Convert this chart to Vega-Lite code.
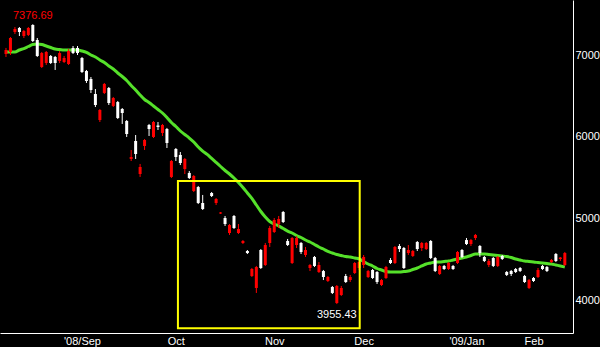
{
  "$schema": "https://vega.github.io/schema/vega-lite/v6.json",
  "width": 573,
  "height": 333,
  "autosize": {"type": "none"},
  "padding": {"left": 0, "top": 0, "right": 27, "bottom": 14},
  "background": "#000000",
  "config": {"view": {"stroke": null}, "font": "Liberation Sans"},
  "datasets": {
    "candles": [
      {"i":0,"o":7061,"h":7086,"l":6976,"c":7012,"ma":7037},
      {"i":1,"o":7208,"h":7220,"l":7000,"c":7037,"ma":7037},
      {"i":2,"o":7318,"h":7342,"l":7257,"c":7281,"ma":7037},
      {"i":3,"o":7281,"h":7342,"l":7232,"c":7330,"ma":7061},
      {"i":4,"o":7293,"h":7306,"l":7208,"c":7232,"ma":7079},
      {"i":5,"o":7330,"h":7342,"l":7232,"c":7245,"ma":7104},
      {"i":6,"o":7171,"h":7376.69,"l":7159,"c":7367,"ma":7128},
      {"i":7,"o":6988,"h":7208,"l":6976,"c":7183,"ma":7134},
      {"i":8,"o":7024,"h":7037,"l":6841,"c":6853,"ma":7128},
      {"i":9,"o":7037,"h":7049,"l":6878,"c":6902,"ma":7110},
      {"i":10,"o":6902,"h":7000,"l":6890,"c":6988,"ma":7092},
      {"i":11,"o":6902,"h":6988,"l":6817,"c":6976,"ma":7073},
      {"i":12,"o":7024,"h":7049,"l":6902,"c":6927,"ma":7067},
      {"i":13,"o":6963,"h":6988,"l":6902,"c":6914,"ma":7061},
      {"i":14,"o":7049,"h":7073,"l":6878,"c":6890,"ma":7061},
      {"i":15,"o":7024,"h":7110,"l":7012,"c":7086,"ma":7061},
      {"i":16,"o":7024,"h":7110,"l":7000,"c":7086,"ma":7061},
      {"i":17,"o":6792,"h":6976,"l":6780,"c":6963,"ma":7049},
      {"i":18,"o":6682,"h":6817,"l":6658,"c":6804,"ma":7031},
      {"i":19,"o":6572,"h":6731,"l":6536,"c":6707,"ma":7000},
      {"i":20,"o":6389,"h":6584,"l":6364,"c":6523,"ma":6976},
      {"i":21,"o":6328,"h":6340,"l":6181,"c":6205,"ma":6939},
      {"i":22,"o":6646,"h":6658,"l":6523,"c":6536,"ma":6908},
      {"i":23,"o":6413,"h":6609,"l":6389,"c":6597,"ma":6866},
      {"i":24,"o":6474,"h":6487,"l":6364,"c":6377,"ma":6829},
      {"i":25,"o":6230,"h":6438,"l":6218,"c":6425,"ma":6780},
      {"i":26,"o":6291,"h":6352,"l":6157,"c":6340,"ma":6737},
      {"i":27,"o":6034,"h":6205,"l":5998,"c":6193,"ma":6688},
      {"i":28,"o":5753,"h":5839,"l":5704,"c":5729,"ma":6627},
      {"i":29,"o":5790,"h":6022,"l":5729,"c":5949,"ma":6572},
      {"i":30,"o":5631,"h":5668,"l":5509,"c":5545,"ma":6511},
      {"i":31,"o":5961,"h":5973,"l":5839,"c":5888,"ma":6456},
      {"i":32,"o":6095,"h":6157,"l":6010,"c":6144,"ma":6419},
      {"i":33,"o":6181,"h":6193,"l":5985,"c":5998,"ma":6377},
      {"i":34,"o":6120,"h":6181,"l":6083,"c":6138,"ma":6334},
      {"i":35,"o":6144,"h":6157,"l":6010,"c":6047,"ma":6291},
      {"i":36,"o":5924,"h":6108,"l":5863,"c":6095,"ma":6236},
      {"i":37,"o":5704,"h":5716,"l":5496,"c":5509,"ma":6175},
      {"i":38,"o":5753,"h":5863,"l":5704,"c":5851,"ma":6126},
      {"i":39,"o":5680,"h":5814,"l":5655,"c":5778,"ma":6071},
      {"i":40,"o":5729,"h":5741,"l":5545,"c":5606,"ma":6028},
      {"i":41,"o":5496,"h":5582,"l":5484,"c":5558,"ma":5985},
      {"i":42,"o":5521,"h":5533,"l":5325,"c":5337,"ma":5936},
      {"i":43,"o":5191,"h":5399,"l":5178,"c":5386,"ma":5875},
      {"i":44,"o":5117,"h":5289,"l":5105,"c":5191,"ma":5826},
      {"i":45,"ma":5784},
      {"i":46,"o":5276,"h":5325,"l":5264,"c":5313,"ma":5735},
      {"i":47,"o":5240,"h":5252,"l":5166,"c":5191,"ma":5686},
      {"i":48,"o":5075,"h":5081,"l":5056,"c":5062,"ma":5637},
      {"i":49,"o":4934,"h":5032,"l":4910,"c":5007,"ma":5588},
      {"i":50,"o":4922,"h":4934,"l":4800,"c":4824,"ma":5545},
      {"i":51,"o":4885,"h":5044,"l":4873,"c":5032,"ma":5496},
      {"i":52,"o":4873,"h":4934,"l":4812,"c":4824,"ma":5441},
      {"i":53,"o":4726,"h":4738,"l":4689,"c":4702,"ma":5380},
      {"i":54,"o":4579,"h":4616,"l":4567,"c":4604,"ma":5313},
      {"i":55,"o":4384,"h":4396,"l":4286,"c":4298,"ma":5246},
      {"i":56,"o":4408,"h":4421,"l":4091,"c":4152,"ma":5166},
      {"i":57,"o":4396,"h":4628,"l":4384,"c":4616,"ma":5087},
      {"i":58,"o":4677,"h":4702,"l":4421,"c":4433,"ma":5020},
      {"i":59,"o":4885,"h":4910,"l":4653,"c":4702,"ma":4965},
      {"i":60,"o":4983,"h":5007,"l":4824,"c":4836,"ma":4934},
      {"i":61,"o":4995,"h":5032,"l":4885,"c":4934,"ma":4910},
      {"i":62,"o":4958,"h":5093,"l":4946,"c":5081,"ma":4879},
      {"i":63,"o":4677,"h":4751,"l":4665,"c":4726,"ma":4848},
      {"i":64,"o":4763,"h":4775,"l":4445,"c":4457,"ma":4824},
      {"i":65,"o":4763,"h":4787,"l":4641,"c":4677,"ma":4793},
      {"i":66,"o":4592,"h":4714,"l":4567,"c":4702,"ma":4769},
      {"i":67,"o":4616,"h":4653,"l":4531,"c":4555,"ma":4738},
      {"i":68,"o":4433,"h":4445,"l":4359,"c":4396,"ma":4714},
      {"i":69,"o":4421,"h":4543,"l":4408,"c":4531,"ma":4683},
      {"i":70,"o":4433,"h":4469,"l":4335,"c":4347,"ma":4653},
      {"i":71,"o":4286,"h":4372,"l":4249,"c":4359,"ma":4628},
      {"i":72,"o":4286,"h":4298,"l":4225,"c":4237,"ma":4598},
      {"i":73,"o":4091,"h":4176,"l":4078,"c":4164,"ma":4579},
      {"i":74,"o":4176,"h":4188,"l":3955.43,"c":3968,"ma":4561},
      {"i":75,"o":4152,"h":4176,"l":4054,"c":4066,"ma":4549},
      {"i":76,"o":4225,"h":4323,"l":4213,"c":4298,"ma":4537},
      {"i":77,"o":4286,"h":4311,"l":4225,"c":4249,"ma":4531},
      {"i":78,"o":4457,"h":4469,"l":4323,"c":4335,"ma":4518},
      {"i":79,"o":4469,"h":4482,"l":4372,"c":4396,"ma":4506},
      {"i":80,"o":4531,"h":4555,"l":4396,"c":4433,"ma":4476},
      {"i":81,"o":4359,"h":4372,"l":4274,"c":4286,"ma":4445},
      {"i":82,"o":4274,"h":4384,"l":4262,"c":4372,"ma":4421},
      {"i":83,"o":4225,"h":4359,"l":4201,"c":4347,"ma":4390},
      {"i":84,"o":4249,"h":4262,"l":4176,"c":4188,"ma":4372},
      {"i":85,"o":4408,"h":4421,"l":4262,"c":4274,"ma":4353},
      {"i":86,"o":4457,"h":4518,"l":4445,"c":4494,"ma":4347},
      {"i":87,"o":4653,"h":4665,"l":4445,"c":4457,"ma":4347},
      {"i":88,"o":4628,"h":4689,"l":4592,"c":4665,"ma":4347},
      {"i":89,"o":4396,"h":4653,"l":4384,"c":4641,"ma":4353},
      {"i":90,"o":4616,"h":4677,"l":4555,"c":4579,"ma":4359},
      {"i":91,"o":4604,"h":4616,"l":4531,"c":4543,"ma":4378},
      {"i":92,"o":4628,"h":4726,"l":4604,"c":4714,"ma":4396},
      {"i":93,"o":4702,"h":4714,"l":4604,"c":4641,"ma":4421},
      {"i":94,"o":4702,"h":4714,"l":4616,"c":4628,"ma":4445},
      {"i":95,"o":4518,"h":4738,"l":4506,"c":4726,"ma":4457},
      {"i":96,"o":4359,"h":4531,"l":4347,"c":4518,"ma":4469},
      {"i":97,"o":4421,"h":4433,"l":4311,"c":4323,"ma":4469},
      {"i":98,"o":4384,"h":4433,"l":4372,"c":4421,"ma":4476},
      {"i":99,"o":4457,"h":4469,"l":4372,"c":4384,"ma":4482},
      {"i":100,"o":4384,"h":4433,"l":4372,"c":4421,"ma":4494},
      {"i":101,"o":4592,"h":4604,"l":4445,"c":4457,"ma":4506},
      {"i":102,"o":4531,"h":4628,"l":4518,"c":4616,"ma":4518},
      {"i":103,"o":4689,"h":4763,"l":4677,"c":4738,"ma":4531},
      {"i":104,"o":4738,"h":4751,"l":4665,"c":4689,"ma":4549},
      {"i":105,"o":4800,"h":4812,"l":4738,"c":4763,"ma":4567},
      {"i":106,"o":4579,"h":4677,"l":4531,"c":4665,"ma":4567},
      {"i":107,"o":4482,"h":4543,"l":4469,"c":4531,"ma":4567},
      {"i":108,"o":4482,"h":4506,"l":4408,"c":4433,"ma":4561},
      {"i":109,"o":4421,"h":4531,"l":4408,"c":4518,"ma":4555},
      {"i":110,"o":4531,"h":4543,"l":4408,"c":4421,"ma":4549},
      {"i":111,"o":4506,"h":4555,"l":4494,"c":4543,"ma":4543},
      {"i":112,"o":4311,"h":4359,"l":4298,"c":4347,"ma":4537},
      {"i":113,"o":4323,"h":4372,"l":4298,"c":4359,"ma":4524},
      {"i":114,"o":4347,"h":4396,"l":4335,"c":4384,"ma":4506},
      {"i":115,"o":4359,"h":4408,"l":4347,"c":4396,"ma":4494},
      {"i":116,"o":4225,"h":4311,"l":4213,"c":4298,"ma":4482},
      {"i":117,"o":4249,"h":4262,"l":4139,"c":4152,"ma":4476},
      {"i":118,"o":4237,"h":4286,"l":4225,"c":4274,"ma":4469},
      {"i":119,"o":4372,"h":4396,"l":4274,"c":4286,"ma":4463},
      {"i":120,"o":4384,"h":4433,"l":4372,"c":4421,"ma":4457},
      {"i":121,"o":4359,"h":4421,"l":4347,"c":4408,"ma":4451},
      {"i":122,"o":4494,"h":4506,"l":4457,"c":4469,"ma":4445},
      {"i":123,"o":4482,"h":4579,"l":4469,"c":4567,"ma":4433},
      {"i":124,"o":4524,"h":4531,"l":4482,"c":4506,"ma":4421},
      {"i":125,"o":4579,"h":4592,"l":4421,"c":4433,"ma":4408}
    ],
    "box": [{"x1": 38.46, "x2": 79.12, "y1": 5460, "y2": 3659}],
    "hi": [{"i": 6, "v": 7376.69, "t": "7376.69"}],
    "lo": [{"i": 74, "v": 3955.43, "t": "3955.43"}]
  },
  "layer": [
    {
      "data": {"name": "candles"},
      "mark": {"type": "line", "color": "#55e02a", "strokeWidth": 3, "interpolate": "monotone"},
      "encoding": {
        "x": {"field": "i", "type": "quantitative", "title": null,
              "scale": {"domain": [-0.22, 125.71], "nice": false, "zero": false},
              "axis": {"orient": "bottom", "values": [17, 38, 60, 80, 103, 118],
                       "labelExpr": "datum.value == 17 ? \"'08/Sep\" : datum.value == 38 ? 'Oct' : datum.value == 60 ? 'Nov' : datum.value == 80 ? 'Dec' : datum.value == 103 ? \"'09/Jan\" : 'Feb'",
                       "ticks": false, "grid": false, "domainColor": "#ffffff", "domainWidth": 1,
                       "labelColor": "#ffffff", "labelFont": "Liberation Sans", "labelFontSize": 11,
                       "labelPadding": 2, "labelFlush": false, "labelOverlap": false, "labelBound": false, "labelDx": -1}},
        "y": {"field": "ma", "type": "quantitative", "title": null,
              "scale": {"domain": [3601.5, 7672.4], "nice": false, "zero": false},
              "axis": {"orient": "right", "values": [4000, 5000, 6000, 7000], "format": "d",
                       "ticks": false, "grid": false, "domainColor": "#ffffff", "domainWidth": 1,
                       "labelColor": "#ffffff", "labelFont": "Liberation Sans", "labelFontSize": 11,
                       "labelPadding": 2, "labelBaseline": "middle"}}
      }
    },
    {
      "data": {"name": "candles"},
      "mark": {"type": "rule", "strokeWidth": 1},
      "encoding": {
        "x": {"field": "i", "type": "quantitative", "title": null, "scale": {"domain": [-0.22, 125.71], "nice": false, "zero": false}},
        "y": {"field": "l", "type": "quantitative", "title": null, "scale": {"domain": [3601.5, 7672.4], "nice": false, "zero": false}},
        "y2": {"field": "h"},
        "color": {"condition": {"test": "datum.c < datum.o", "value": "#ff0000"}, "value": "#ffffff"}
      }
    },
    {
      "data": {"name": "candles"},
      "mark": {"type": "bar", "size": 3},
      "encoding": {
        "x": {"field": "i", "type": "quantitative", "title": null, "scale": {"domain": [-0.22, 125.71], "nice": false, "zero": false}},
        "y": {"field": "o", "type": "quantitative", "title": null, "scale": {"domain": [3601.5, 7672.4], "nice": false, "zero": false}},
        "y2": {"field": "c"},
        "color": {"condition": {"test": "datum.c < datum.o", "value": "#ff0000"}, "value": "#ffffff"}
      }
    },
    {
      "data": {"name": "box"},
      "mark": {"type": "rect", "filled": false, "color": "#ffff00", "strokeWidth": 2},
      "encoding": {
        "x": {"field": "x1", "type": "quantitative", "title": null, "scale": {"domain": [-0.22, 125.71], "nice": false, "zero": false}},
        "x2": {"field": "x2"},
        "y": {"field": "y1", "type": "quantitative", "title": null, "scale": {"domain": [3601.5, 7672.4], "nice": false, "zero": false}},
        "y2": {"field": "y2"}
      }
    },
    {
      "data": {"name": "hi"},
      "mark": {"type": "text", "font": "Liberation Sans", "fontSize": 11, "color": "#ff0000", "align": "center", "baseline": "alphabetic", "dy": -5},
      "encoding": {
        "x": {"field": "i", "type": "quantitative", "title": null, "scale": {"domain": [-0.22, 125.71], "nice": false, "zero": false}},
        "y": {"field": "v", "type": "quantitative", "title": null, "scale": {"domain": [3601.5, 7672.4], "nice": false, "zero": false}},
        "text": {"field": "t"}
      }
    },
    {
      "data": {"name": "lo"},
      "mark": {"type": "text", "font": "Liberation Sans", "fontSize": 11, "color": "#ffffff", "align": "center", "baseline": "alphabetic", "dy": 14},
      "encoding": {
        "x": {"field": "i", "type": "quantitative", "title": null, "scale": {"domain": [-0.22, 125.71], "nice": false, "zero": false}},
        "y": {"field": "v", "type": "quantitative", "title": null, "scale": {"domain": [3601.5, 7672.4], "nice": false, "zero": false}},
        "text": {"field": "t"}
      }
    }
  ]
}
